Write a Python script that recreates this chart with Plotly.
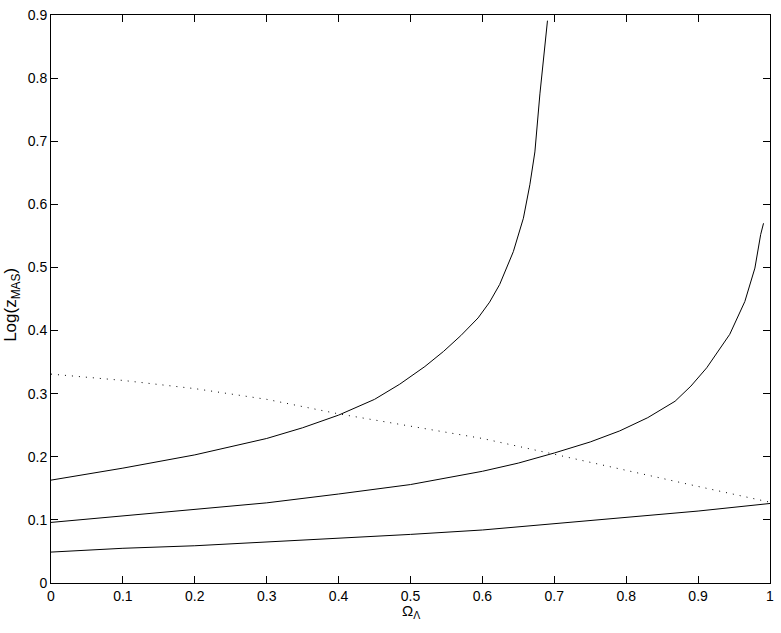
import plotly.graph_objects as go

# Curve 1 (top solid)
c1_x = [0, 0.1, 0.2, 0.3, 0.35, 0.4, 0.45, 0.485, 0.52, 0.546, 0.57, 0.594, 0.61, 0.624, 0.643, 0.657, 0.666, 0.673, 0.680, 0.6905]
c1_y = [0.163, 0.182, 0.203, 0.229, 0.246, 0.266, 0.291, 0.315, 0.343, 0.367, 0.392, 0.420, 0.445, 0.473, 0.525, 0.578, 0.631, 0.683, 0.775, 0.891]

# Curve 2 (middle solid)
c2_x = [0, 0.1, 0.2, 0.3, 0.4, 0.5, 0.6, 0.65, 0.7, 0.75, 0.791, 0.83, 0.868, 0.89, 0.912, 0.944, 0.965, 0.979, 0.987, 0.991]
c2_y = [0.096, 0.106, 0.116, 0.127, 0.141, 0.156, 0.177, 0.190, 0.206, 0.2235, 0.241, 0.262, 0.288, 0.312, 0.341, 0.394, 0.446, 0.499, 0.552, 0.570]

# Curve 3 (bottom solid)
c3_x = [0, 0.1, 0.2, 0.3, 0.4, 0.5, 0.6, 0.7, 0.8, 0.9, 1.0]
c3_y = [0.049, 0.055, 0.059, 0.065, 0.070, 0.077, 0.084, 0.094, 0.103, 0.114, 0.126]

# Dotted curve
d_x = [0, 0.1, 0.2, 0.3, 0.4, 0.5, 0.6, 0.7, 0.8, 0.9, 1.0]
d_y = [0.331, 0.321, 0.308, 0.291, 0.268, 0.249, 0.229, 0.204, 0.178, 0.153, 0.128]

x_ticks = [0, 0.1, 0.2, 0.3, 0.4, 0.5, 0.6, 0.7, 0.8, 0.9, 1]
x_ticktext = ["0", "0.1", "0.2", "0.3", "0.4", "0.5", "0.6", "0.7", "0.8", "0.9", "1"]
y_ticks = [0, 0.1, 0.2, 0.3, 0.4, 0.5, 0.6, 0.7, 0.8, 0.9]
y_ticktext = ["0", "0.1", "0.2", "0.3", "0.4", "0.5", "0.6", "0.7", "0.8", "0.9"]

FONT = "Liberation Sans, Arial, sans-serif"

fig = go.Figure()
for xs, ys in [(c1_x, c1_y), (c2_x, c2_y), (c3_x, c3_y)]:
    fig.add_trace(go.Scatter(x=xs, y=ys, mode="lines", line=dict(color="black", width=1),
                             showlegend=False, hoverinfo="skip"))
fig.add_trace(go.Scatter(x=d_x, y=d_y, mode="lines", line=dict(color="black", width=1, dash="1px,6px"),
                         showlegend=False, hoverinfo="skip"))

axis_common = dict(
    showgrid=False, zeroline=False, showline=True, linecolor="black", linewidth=1,
    mirror="allticks", ticks="inside", ticklen=7, tickcolor="black", tickwidth=1,
    automargin=False,
    tickfont=dict(family=FONT, size=14, color="black"),
)

fig.update_layout(
    width=781, height=633,
    margin=dict(l=51, r=11, t=15, b=50, autoexpand=False),
    paper_bgcolor="white", plot_bgcolor="white",
    xaxis=dict(range=[0, 1], tickvals=x_ticks, ticktext=x_ticktext, **axis_common),
    yaxis=dict(range=[0, 0.9], tickvals=y_ticks, ticktext=y_ticktext, **axis_common),
    font=dict(family=FONT, size=14, color="black"),
    annotations=[
        dict(text="Log(z<sub>MAS</sub>)", xref="paper", yref="paper", x=-0.054, y=0.49,
             textangle=-90, showarrow=False, xanchor="center", yanchor="middle",
             font=dict(family=FONT, size=17, color="black")),
        dict(text="Ω<sub>Λ</sub>", xref="paper", yref="paper", x=0.5, y=-0.05,
             showarrow=False, xanchor="center", yanchor="middle",
             font=dict(family=FONT, size=15, color="black")),
    ],
)

fig.write_html("out.html", config={"displayModeBar": False},
               post_script="document.body.style.margin='0';")
